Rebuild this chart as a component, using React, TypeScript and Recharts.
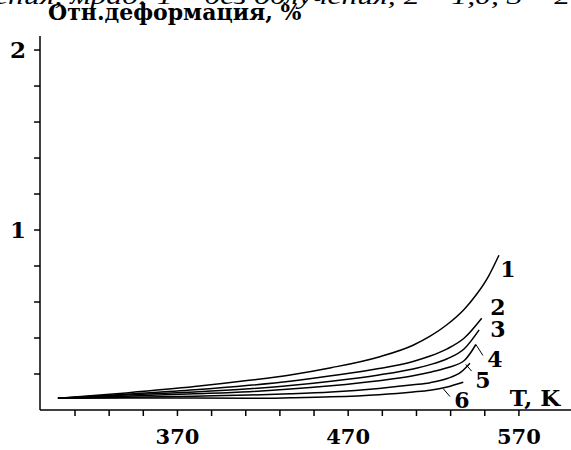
import { LineChart, Line, XAxis, YAxis, ReferenceDot, ReferenceLine } from "recharts";

// temperature, K
const t1 = [300, 340, 380, 412, 436, 460, 488, 508, 518, 528, 538, 545, 552, 558.3];
const t2 = [300, 340, 380, 412, 436, 460, 488, 508, 518, 528, 538, 548.2];
const t3 = [300, 340, 380, 412, 436, 460, 488, 508, 518, 528, 538, 546.7];
const t4 = [300, 340, 380, 412, 436, 460, 488, 508, 518, 528, 538, 544.8];
const t5 = [300, 340, 380, 412, 436, 460, 488, 508, 518, 528, 536, 541.3];
const t6 = [300, 340, 380, 412, 436, 460, 488, 508, 518, 528, 537.4];

// relative strain, %
const v1 = [0.065, 0.095, 0.13, 0.165, 0.195, 0.235, 0.295, 0.36, 0.41, 0.475, 0.56, 0.64, 0.74, 0.86];
const v2 = [0.065, 0.088, 0.112, 0.137, 0.16, 0.19, 0.23, 0.27, 0.3, 0.34, 0.4, 0.51];
const v3 = [0.065, 0.083, 0.1, 0.118, 0.136, 0.16, 0.195, 0.228, 0.252, 0.285, 0.34, 0.445];
const v4 = [0.065, 0.077, 0.09, 0.102, 0.116, 0.135, 0.163, 0.19, 0.21, 0.235, 0.275, 0.364];
const v5 = [0.065, 0.071, 0.077, 0.083, 0.09, 0.1, 0.12, 0.14, 0.152, 0.175, 0.21, 0.26];
const v6 = [0.065, 0.066, 0.066, 0.065, 0.068, 0.073, 0.085, 0.1, 0.11, 0.128, 0.154];

const xTicks = [310, 330, 350, 370, 390, 410, 430, 450, 470, 490, 510, 530, 550, 570];
const xLabels = [370, 470, 570];
const yTicks = [0.2, 0.4, 0.6, 0.8, 1, 1.2, 1.4, 1.6, 1.8, 2];
const yLabels = [1, 2];

// curve number labels: [text, T, value]
const curveLabels: [string, number, number][] = [
  ["1", 563.6, 0.786],
  ["2", 557.7, 0.57],
  ["3", 557.7, 0.45],
  ["4", 556, 0.286],
  ["5", 548.9, 0.164],
  ["6", 536.6, 0.053],
];

const leaders: [number, number, number, number][] = [
  [544.8, 0.364, 548.9, 0.303],
  [538.9, 0.253, 542.3, 0.216],
  [525.7, 0.118, 529.6, 0.075],
];

const series = [
  { t: t1, v: v1 },
  { t: t2, v: v2 },
  { t: t3, v: v3 },
  { t: t4, v: v4 },
  { t: t5, v: v5 },
  { t: t6, v: v6 },
];

const serif = "'DejaVu Serif', serif";

const XTick = ({ x, y, payload }: any) =>
  xLabels.includes(payload.value) ? (
    <text x={x} y={y} dy={26} textAnchor="middle" fontFamily={serif} fontWeight="bold" fontSize={21} fill="#000">
      {payload.value}
    </text>
  ) : null;

const YTick = ({ x, y, payload }: any) =>
  yLabels.includes(payload.value) ? (
    <text x={x} y={y} dx={-6} dy={8} textAnchor="end" fontFamily={serif} fontWeight="bold" fontSize={23} fill="#000">
      {payload.value}
    </text>
  ) : null;

const textShape = (label: string, size = 22) => (props: any) =>
  (
    <text x={props.cx} y={props.cy} dy={8} textAnchor="middle" fontFamily={serif} fontWeight="bold" fontSize={size} fill="#000">
      {label}
    </text>
  );

export default function App() {
  return (
    <div style={{ position: "absolute", left: 0, top: 0, width: 571, height: 450, background: "#fff", overflow: "hidden" }}>
      <LineChart width={571} height={450} margin={{ top: 36, right: 0, left: 0, bottom: 0 }}>
        <XAxis
          type="number"
          dataKey="t"
          domain={[289.5, 600.5]}
          ticks={xTicks}
          tick={<XTick />}
          tickSize={6}
          height={40}
          axisLine={{ stroke: "#000", strokeWidth: 1.5 }}
          tickLine={{ stroke: "#000", strokeWidth: 1.5 }}
          allowDataOverflow
        />
        <YAxis
          type="number"
          domain={[0, 2.078]}
          ticks={yTicks}
          tick={<YTick />}
          tickSize={6}
          width={40}
          axisLine={{ stroke: "#000", strokeWidth: 1.5 }}
          tickLine={{ stroke: "#000", strokeWidth: 1.5 }}
          allowDataOverflow
        />
        {series.map((s, i) => (
          <Line
            key={i}
            data={s.t.map((t, j) => ({ t, v: s.v[j] }))}
            dataKey="v"
            type="monotone"
            stroke="#000"
            strokeWidth={1.5}
            dot={false}
            isAnimationActive={false}
          />
        ))}
        {leaders.map(([xa, ya, xb, yb], i) => (
          <ReferenceLine
            key={"l" + i}
            segment={[
              { x: xa, y: ya },
              { x: xb, y: yb },
            ]}
            stroke="#000"
            strokeWidth={1}
          />
        ))}
        {curveLabels.map(([label, x, y]) => (
          <ReferenceDot key={label} x={x} y={y} r={0} shape={textShape(label)} />
        ))}
        <ReferenceDot x={579.4} y={0.069} r={0} shape={textShape("T, K", 23)} />
      </LineChart>
      <svg width={571} height={450} style={{ position: "absolute", left: 0, top: 0, pointerEvents: "none" }}>
        <text
          x={-6}
          y={4}
          textLength={600}
          lengthAdjust="spacingAndGlyphs"
          fontFamily="'Liberation Serif', serif"
          fontStyle="italic"
          fontSize={24}
          fill="#000"
        >
          ения, мрад: 1 – без облучения, 2 – 1,0, 3 – 2,5
        </text>
        <text x={48} y={20} fontFamily={serif} fontWeight="bold" fontSize={22} fill="#000">
          Отн.деформация, %
        </text>
      </svg>
    </div>
  );
}
